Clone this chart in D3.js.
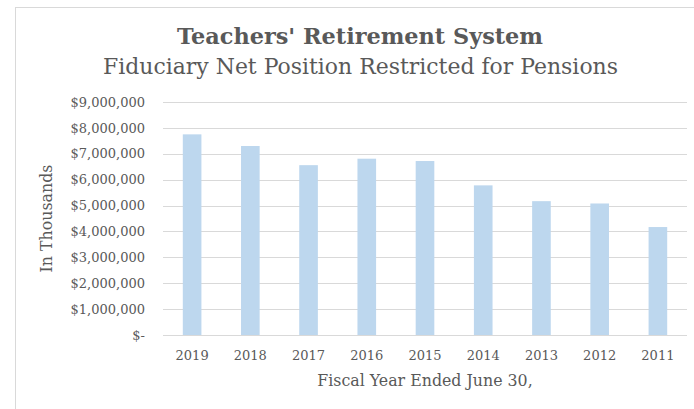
<!DOCTYPE html>
<html>
<head>
<meta charset="utf-8">
<script src="https://cdn.jsdelivr.net/npm/d3@7"></script>
<style>
  html, body { margin: 0; padding: 0; background: #ffffff; }
  svg { display: block; }
  text { font-family: "DejaVu Serif", "Liberation Serif", serif; fill: #595959; }
</style>
</head>
<body>
<svg id="chart" width="694" height="409"></svg>
<script>
const years = ["2019", "2018", "2017", "2016", "2015", "2014", "2013", "2012", "2011"];
const netPosition = [7750000, 7300000, 6560000, 6810000, 6720000, 5780000, 5170000, 5080000, 4170000];
const yTicks = [0, 1000000, 2000000, 3000000, 4000000, 5000000, 6000000, 7000000, 8000000, 9000000];
const titleText = "Teachers' Retirement System";
const subtitleText = "Fiduciary Net Position Restricted for Pensions";
const xTitleText = "Fiscal Year Ended June 30,";
const yTitleText = "In Thousands";

const svg = d3.select("#chart");

// chart frame
svg.append("rect")
  .attr("x", 15.5).attr("y", 7.5)
  .attr("width", 700).attr("height", 420)
  .attr("fill", "#ffffff")
  .attr("stroke", "#d9d9d9").attr("stroke-width", 1);

const plot = { left: 163, right: 687, top: 102, bottom: 335 };

const x = d3.scaleBand()
  .domain(years)
  .range([plot.left, plot.right])
  .paddingInner(0.68)
  .paddingOuter(0.34);

const y = d3.scaleLinear()
  .domain([0, 9000000])
  .range([plot.bottom, plot.top]);

// gridlines
svg.append("g")
  .selectAll("line")
  .data(yTicks)
  .join("line")
  .attr("x1", plot.left).attr("x2", plot.right)
  .attr("y1", d => Math.round(y(d)) + 0.5)
  .attr("y2", d => Math.round(y(d)) + 0.5)
  .attr("stroke", "#d9d9d9").attr("stroke-width", 1);

// bars
svg.append("g")
  .selectAll("rect")
  .data(years.map((yr, i) => ({ yr, v: netPosition[i] })))
  .join("rect")
  .attr("x", d => x(d.yr))
  .attr("y", d => y(d.v))
  .attr("width", x.bandwidth())
  .attr("height", d => y(0) - y(d.v))
  .attr("fill", "#bdd7ee");

// y axis labels
const fmt = d => d === 0 ? "$-" : "$" + d3.format(",")(d);
const yAxis = d3.axisLeft(y).tickValues(yTicks).tickFormat(fmt).tickSize(0).tickPadding(0);
const gy = svg.append("g").attr("transform", "translate(145,0)").call(yAxis);
gy.select(".domain").remove();
gy.selectAll("text")
  .style("font-family", "DejaVu Serif")
  .style("font-size", "13px")
  .attr("fill", "#595959");

// x axis labels
const xAxis = d3.axisBottom(x).tickSize(0).tickPadding(0);
const gx = svg.append("g").attr("transform", `translate(0,${plot.bottom + 16})`).call(xAxis);
gx.select(".domain").remove();
gx.selectAll("text")
  .style("font-family", "DejaVu Serif")
  .style("font-size", "13px")
  .attr("fill", "#595959");

// titles
svg.append("text")
  .attr("x", 360).attr("y", 44)
  .attr("text-anchor", "middle")
  .style("font-size", "22px").style("font-weight", "bold")
  .attr("textLength", 366).attr("lengthAdjust", "spacingAndGlyphs")
  .text(titleText);

svg.append("text")
  .attr("x", 360.5).attr("y", 74)
  .attr("text-anchor", "middle")
  .style("font-size", "23px")
  .attr("textLength", 515).attr("lengthAdjust", "spacingAndGlyphs")
  .text(subtitleText);

// axis titles
svg.append("text")
  .attr("x", (plot.left + plot.right) / 2).attr("y", 386)
  .attr("text-anchor", "middle")
  .style("font-size", "15.8px")
  .text(xTitleText);

svg.append("text")
  .attr("transform", `translate(52,${(plot.top + plot.bottom) / 2}) rotate(-90)`)
  .attr("text-anchor", "middle")
  .style("font-size", "15.8px")
  .text(yTitleText);
</script>
</body>
</html>
